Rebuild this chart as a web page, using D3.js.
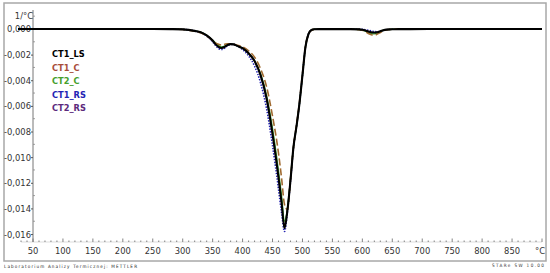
<!DOCTYPE html>
<html><head><meta charset="utf-8">
<script src="https://cdn.jsdelivr.net/npm/d3@7"></script>
<style>
html,body{margin:0;padding:0;background:#fff;}
svg{display:block;}
text{font-family:"DejaVu Sans Condensed","DejaVu Sans",sans-serif;}
</style></head>
<body><svg id="c" width="550" height="273"></svg>
<script>
// ---- data ----
const temps = [25,50,100,150,200,250,280,300,310,320,330,340,350,355,360,365,370,375,380,385,390,400,410,420,430,440,450,460,465,470,475,480,485,490,495,500,505,510,515,520,550,580,595,600,605,610,615,620,625,630,635,640,650,680,750,800,900];
const seriesNames = ["CT1_LS","CT1_C","CT2_C","CT1_RS","CT2_RS"];
const ct1_LS = [0,0,0,0,0,0,-0.00001,-0.00003,-0.00007,-0.00015,-0.00025,-0.0005,-0.0009,-0.0012,-0.0014,-0.00148,-0.0014,-0.00125,-0.00118,-0.0012,-0.0013,-0.0015,-0.0019,-0.0025,-0.0036,-0.0054,-0.0082,-0.0116,-0.0135,-0.01555,-0.0141,-0.0118,-0.0092,-0.0076,-0.0058,-0.0036,-0.0014,-0.0004,-0.00008,-0.00002,-0.00001,-0.00001,-0.00003,-0.00006,-0.00012,-0.0002,-0.00026,-0.00028,-0.00025,-0.00018,-0.0001,-0.00005,-0.00002,-0.00001,0,0,0];
const ct1_C  = [0,0,0,0,0,0,-0.00001,-0.00004,-0.00009,-0.00018,-0.0003,-0.00055,-0.0009,-0.0011,-0.0012,-0.00125,-0.0012,-0.00115,-0.00115,-0.00118,-0.00125,-0.0014,-0.0017,-0.0022,-0.0031,-0.0045,-0.0068,-0.0097,-0.0116,-0.0137,-0.0141,-0.0117,-0.0092,-0.0075,-0.0057,-0.0035,-0.0014,-0.0004,-0.0001,-0.00003,-0.00001,-0.00001,-0.00005,-0.0001,-0.0002,-0.00035,-0.00045,-0.00048,-0.0004,-0.00028,-0.00015,-0.00007,-0.00002,0,0,0,0];
const ct2_C  = [0,0,0,0,0,0,-0.00001,-0.00003,-0.00007,-0.00015,-0.00025,-0.0005,-0.00088,-0.0011,-0.0013,-0.0014,-0.00135,-0.00122,-0.00118,-0.0012,-0.0013,-0.0015,-0.0019,-0.0025,-0.0035,-0.0052,-0.0078,-0.0111,-0.0130,-0.0150,-0.0140,-0.0117,-0.0092,-0.0076,-0.0058,-0.0036,-0.0014,-0.0004,-0.00008,-0.00002,-0.00001,-0.00001,-0.00004,-0.00008,-0.00016,-0.0003,-0.00036,-0.00038,-0.0003,-0.0002,-0.0001,-0.00005,-0.00002,0,0,0,0];
const ct1_RS = [0,0,0,0,0,0,-0.00001,-0.00003,-0.00007,-0.00015,-0.00028,-0.00055,-0.001,-0.0013,-0.00152,-0.0016,-0.0015,-0.0013,-0.00122,-0.0012,-0.0013,-0.0016,-0.0021,-0.0029,-0.0042,-0.0062,-0.0091,-0.0125,-0.0143,-0.0158,-0.0142,-0.0119,-0.0093,-0.0076,-0.0058,-0.0036,-0.0014,-0.0004,-0.00008,-0.00002,-0.00001,-0.00001,-0.00001,-0.00003,-0.00006,-0.0001,-0.00016,-0.0002,-0.00022,-0.0002,-0.00012,-0.00006,-0.00002,0,0,0,0];
const ct2_RS = [0,0,0,0,0,0,-0.00001,-0.00003,-0.00007,-0.00015,-0.00026,-0.0005,-0.0009,-0.0012,-0.00142,-0.0015,-0.0014,-0.00125,-0.00118,-0.0012,-0.0013,-0.0015,-0.0019,-0.0025,-0.0036,-0.0054,-0.0081,-0.0115,-0.0134,-0.0153,-0.0140,-0.0118,-0.0092,-0.0076,-0.0058,-0.0036,-0.0014,-0.0004,-0.00008,-0.00002,-0.00001,-0.00001,-0.00003,-0.00006,-0.00012,-0.0002,-0.00026,-0.00028,-0.00025,-0.00018,-0.0001,-0.00005,-0.00002,-0.00001,0,0,0];
const yTickValues = [0,-0.002,-0.004,-0.006,-0.008,-0.010,-0.012,-0.014,-0.016];
const xTickValues = [50,100,150,200,250,300,350,400,450,500,550,600,650,700,750,800,850];
const xUnit = "°C";
const yUnit = "1/°C";
const footerLeft = "Laboratorium Analizy Termicznej: METTLER";
const footerRight = "STARe SW 10.00";

// ---- styles ----
const styles = {
  "CT1_LS": {color:"#000000", text:"#000000", width:2.1, dash:null},
  "CT1_C":  {color:"#a06a30", text:"#a84e3a", width:1.6, dash:"7,3"},
  "CT2_C":  {color:"#3f9e2e", text:"#46a02c", width:1.4, dash:null},
  "CT1_RS": {color:"#1f1fb0", text:"#2424b4", width:1.6, dash:"1.4,1.4"},
  "CT2_RS": {color:"#5c2a7c", text:"#5c2a7c", width:1.3, dash:null}
};
const seriesData = {"CT1_LS":ct1_LS,"CT1_C":ct1_C,"CT2_C":ct2_C,"CT1_RS":ct1_RS,"CT2_RS":ct2_RS};

const svg = d3.select("#c");
const x = d3.scaleLinear().domain([50,900]).range([33,542]);
const y = d3.scaleLinear().domain([-0.01662,0.00148]).range([242,10]);
const loc = d3.formatLocale({decimal:",",thousands:" ",grouping:[3],currency:["",""],minus:"-"});
const fy = loc.format(".3f");
const labelSize = 9.3;

// frame
svg.append("rect").attr("x",4).attr("y",3).attr("width",542).attr("height",258)
  .attr("fill","none").attr("stroke","#a8a8a8").attr("stroke-width",1.5);

// x axis
svg.append("line").attr("x1",x(30)).attr("x2",x(900)).attr("y1",242).attr("y2",242)
  .attr("stroke","#d4d4d4").attr("stroke-width",0.8);
const minor = d3.range(30,901,10);
svg.append("g").selectAll("line").data(minor).join("line")
  .attr("x1",d=>x(d)).attr("x2",d=>x(d))
  .attr("y1",242).attr("y2",d=> d%50===0 ? 238.5 : 240.5)
  .attr("stroke","#666").attr("stroke-width",0.8);
svg.append("g").selectAll("text").data(xTickValues).join("text")
  .attr("x",d=>x(d)).attr("y",253.5).attr("text-anchor","middle")
  .attr("font-size",labelSize).attr("fill","#333").text(d=>d);
svg.append("text").attr("x",x(900)-2).attr("y",253.5).attr("text-anchor","middle")
  .attr("font-size",labelSize).attr("fill","#333").text(xUnit);

// y axis
const yAxis = d3.axisLeft(y).tickValues(yTickValues).tickSize(2).tickPadding(0).tickFormat(fy);
const gy = svg.append("g").attr("transform","translate(33,0)").call(yAxis);
gy.select(".domain").attr("stroke","#777").attr("d","M0,10V242");
gy.selectAll(".tick line").attr("stroke","#555");
gy.selectAll(".tick text").attr("font-size",labelSize).attr("fill","#333")
  .attr("font-family","DejaVu Sans Condensed, DejaVu Sans, sans-serif");
const yMinor = d3.range(-0.015,0.0011,0.002);
svg.append("g").selectAll("line").data(yMinor).join("line")
  .attr("x1",33).attr("x2",35).attr("y1",d=>y(d)).attr("y2",d=>y(d))
  .attr("stroke","#888").attr("stroke-width",0.8);
svg.append("text").attr("x",33).attr("y",18.5).attr("text-anchor","end")
  .attr("font-size",labelSize).attr("fill","#333").text(yUnit);

// lines
const line = d3.line().x((d,i)=>x(temps[i])).y(d=>y(d)).curve(d3.curveMonotoneX);
const drawOrder = ["CT2_RS","CT1_RS","CT2_C","CT1_C","CT1_LS"];
drawOrder.forEach(n=>{
  const s = styles[n];
  svg.append("path").datum(seriesData[n]).attr("d",line)
    .attr("fill","none").attr("stroke",s.color).attr("stroke-width",s.width)
    .attr("stroke-dasharray",s.dash).attr("stroke-linejoin","round");
});

// legend
svg.append("g").selectAll("text").data(seriesNames).join("text")
  .attr("x",52).attr("y",(d,i)=>57.3+i*13.4)
  .attr("font-family","DejaVu Sans, sans-serif").attr("font-weight","bold")
  .attr("font-size",9.2).attr("fill",d=>styles[d].text).text(d=>d);

// footers
svg.append("text").attr("x",4).attr("y",267.5).attr("font-size",4.6)
  .attr("font-family","DejaVu Sans Mono, monospace").attr("fill","#222")
  .attr("textLength",133).attr("lengthAdjust","spacing").text(footerLeft);
svg.append("text").attr("x",492).attr("y",267).attr("font-size",4.6)
  .attr("font-family","DejaVu Sans Mono, monospace").attr("fill","#333")
  .attr("textLength",52).attr("lengthAdjust","spacing").text(footerRight);
</script></body></html>
